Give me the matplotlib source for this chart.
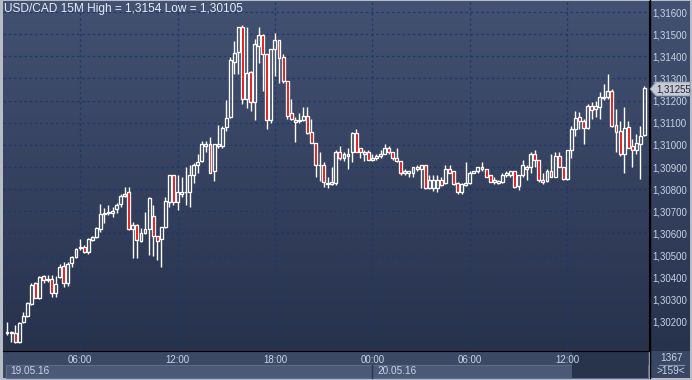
import numpy as np
import matplotlib.pyplot as plt
from matplotlib.patches import Rectangle, Polygon
from matplotlib.colors import LinearSegmentedColormap

W, H = 692, 380

# USD/CAD 15M candles, 19.05.16 01:30 -> 20.05.16 16:45
opens = [
    1.30150, 1.30155, 1.30150, 1.30109, 1.30200, 1.30227, 1.30282, 1.30377, 1.30309, 1.30409,
    1.30390, 1.30395, 1.30332, 1.30404, 1.30454, 1.30377, 1.30467, 1.30495, 1.30535, 1.30540,
    1.30517, 1.30572, 1.30585, 1.30621, 1.30689, 1.30694, 1.30694, 1.30712, 1.30735, 1.30771,
    1.30785, 1.30621, 1.30640, 1.30567, 1.30603, 1.30621, 1.30680, 1.30590, 1.30576, 1.30631,
    1.30744, 1.30862, 1.30744, 1.30780, 1.30785, 1.30789, 1.30866, 1.30907, 1.30925, 1.30997,
    1.31002, 1.30880, 1.30997, 1.30997, 1.31079, 1.31124, 1.31374, 1.31419, 1.31532, 1.31206,
    1.31328, 1.31192, 1.31446, 1.31496, 1.31410, 1.31111, 1.31432, 1.31473, 1.31396, 1.31287,
    1.31142, 1.31102, 1.31106, 1.31111, 1.31129, 1.31056, 1.31007, 1.30907, 1.30907, 1.30825,
    1.30825, 1.30830, 1.30970, 1.30943, 1.30952, 1.30966, 1.31052, 1.30984, 1.30957, 1.30970,
    1.30934, 1.30939, 1.30952, 1.30961, 1.30988, 1.30970, 1.30939, 1.30925, 1.30875, 1.30871,
    1.30875, 1.30902, 1.30889, 1.30907, 1.30807, 1.30807, 1.30807, 1.30843, 1.30830, 1.30893,
    1.30880, 1.30830, 1.30785, 1.30821, 1.30830, 1.30875, 1.30880, 1.30902, 1.30889, 1.30862,
    1.30843, 1.30839, 1.30834, 1.30866, 1.30866, 1.30880, 1.30816, 1.30862, 1.30902, 1.30902,
    1.30961, 1.30934, 1.30843, 1.30839, 1.30884, 1.30857, 1.30952, 1.30898, 1.30848, 1.30979,
    1.31070, 1.31124, 1.31106, 1.31075, 1.31174, 1.31161, 1.31170, 1.31210, 1.31215, 1.31242,
    1.31088, 1.31061, 1.30961, 1.31079, 1.30997, 1.30975, 1.31002, 1.31043,
]
highs = [
    1.30200, 1.30159, 1.30186, 1.30200, 1.30245, 1.30291, 1.30377, 1.30381, 1.30409, 1.30413,
    1.30413, 1.30413, 1.30409, 1.30463, 1.30472, 1.30472, 1.30499, 1.30535, 1.30576, 1.30549,
    1.30581, 1.30590, 1.30631, 1.30735, 1.30717, 1.30730, 1.30721, 1.30739, 1.30780, 1.30812,
    1.30812, 1.30653, 1.30644, 1.30626, 1.30698, 1.30766, 1.30730, 1.30590, 1.30631, 1.30766,
    1.30866, 1.30862, 1.30866, 1.30857, 1.30902, 1.30907, 1.30916, 1.30957, 1.31016, 1.31016,
    1.31034, 1.31002, 1.31088, 1.31084, 1.31201, 1.31396, 1.31469, 1.31532, 1.31540, 1.31532,
    1.31333, 1.31478, 1.31532, 1.31500, 1.31410, 1.31432, 1.31505, 1.31473, 1.31410, 1.31287,
    1.31206, 1.31124, 1.31142, 1.31170, 1.31170, 1.31115, 1.31007, 1.30966, 1.30921, 1.30857,
    1.30898, 1.30979, 1.30997, 1.30970, 1.30988, 1.31056, 1.31070, 1.30988, 1.30979, 1.30979,
    1.30957, 1.30961, 1.30979, 1.31002, 1.30993, 1.30970, 1.30984, 1.30925, 1.30893, 1.30884,
    1.30902, 1.30911, 1.30911, 1.30911, 1.30862, 1.30866, 1.30862, 1.30853, 1.30911, 1.30911,
    1.30880, 1.30834, 1.30830, 1.30921, 1.30884, 1.30884, 1.30902, 1.30921, 1.30889, 1.30866,
    1.30853, 1.30843, 1.30871, 1.30880, 1.30884, 1.30884, 1.30866, 1.30930, 1.30911, 1.30966,
    1.30979, 1.30934, 1.30875, 1.30889, 1.30957, 1.30970, 1.30970, 1.30898, 1.30979, 1.31084,
    1.31152, 1.31147, 1.31115, 1.31183, 1.31192, 1.31197, 1.31238, 1.31274, 1.31319, 1.31251,
    1.31161, 1.31106, 1.31170, 1.31106, 1.31025, 1.31047, 1.31084, 1.31265,
]
lows = [
    1.30141, 1.30109, 1.30105, 1.30105, 1.30196, 1.30223, 1.30277, 1.30309, 1.30304, 1.30377,
    1.30381, 1.30313, 1.30313, 1.30400, 1.30359, 1.30363, 1.30449, 1.30490, 1.30526, 1.30513,
    1.30508, 1.30567, 1.30581, 1.30608, 1.30649, 1.30685, 1.30676, 1.30694, 1.30721, 1.30766,
    1.30617, 1.30490, 1.30490, 1.30562, 1.30599, 1.30504, 1.30499, 1.30481, 1.30449, 1.30626,
    1.30721, 1.30730, 1.30708, 1.30766, 1.30730, 1.30721, 1.30830, 1.30871, 1.30921, 1.30966,
    1.30871, 1.30839, 1.30984, 1.30984, 1.31061, 1.31120, 1.31319, 1.31319, 1.31183, 1.31165,
    1.31152, 1.31111, 1.31369, 1.31242, 1.31070, 1.31097, 1.31310, 1.31278, 1.31278, 1.31115,
    1.31111, 1.31011, 1.31097, 1.31106, 1.31047, 1.31007, 1.30857, 1.30839, 1.30812, 1.30807,
    1.30821, 1.30821, 1.30934, 1.30925, 1.30893, 1.30921, 1.30966, 1.30943, 1.30925, 1.30930,
    1.30925, 1.30930, 1.30943, 1.30957, 1.30957, 1.30934, 1.30921, 1.30866, 1.30866, 1.30857,
    1.30857, 1.30884, 1.30807, 1.30803, 1.30803, 1.30794, 1.30789, 1.30816, 1.30825, 1.30871,
    1.30821, 1.30776, 1.30780, 1.30816, 1.30825, 1.30871, 1.30875, 1.30880, 1.30853, 1.30834,
    1.30825, 1.30825, 1.30830, 1.30853, 1.30857, 1.30807, 1.30798, 1.30853, 1.30843, 1.30875,
    1.30898, 1.30834, 1.30825, 1.30834, 1.30853, 1.30853, 1.30898, 1.30843, 1.30843, 1.30939,
    1.31038, 1.31070, 1.31002, 1.31070, 1.31115, 1.31124, 1.31115, 1.31201, 1.31206, 1.31079,
    1.30966, 1.30952, 1.30875, 1.30988, 1.30898, 1.30961, 1.30848, 1.31038,
]
closes = [
    1.30155, 1.30150, 1.30109, 1.30196, 1.30227, 1.30286, 1.30368, 1.30309, 1.30404, 1.30390,
    1.30395, 1.30332, 1.30372, 1.30449, 1.30377, 1.30463, 1.30495, 1.30531, 1.30540, 1.30517,
    1.30576, 1.30585, 1.30626, 1.30689, 1.30694, 1.30698, 1.30703, 1.30730, 1.30771, 1.30776,
    1.30621, 1.30640, 1.30572, 1.30603, 1.30621, 1.30762, 1.30590, 1.30567, 1.30631, 1.30748,
    1.30862, 1.30744, 1.30785, 1.30789, 1.30789, 1.30866, 1.30911, 1.30921, 1.31002, 1.31002,
    1.30875, 1.31002, 1.31002, 1.31075, 1.31120, 1.31383, 1.31414, 1.31532, 1.31206, 1.31324,
    1.31192, 1.31455, 1.31496, 1.31410, 1.31111, 1.31432, 1.31473, 1.31392, 1.31287, 1.31129,
    1.31115, 1.31111, 1.31111, 1.31129, 1.31052, 1.31007, 1.30907, 1.30911, 1.30834, 1.30830,
    1.30834, 1.30966, 1.30943, 1.30957, 1.30957, 1.31052, 1.30966, 1.30966, 1.30966, 1.30934,
    1.30943, 1.30952, 1.30961, 1.30984, 1.30970, 1.30939, 1.30925, 1.30875, 1.30880, 1.30880,
    1.30898, 1.30889, 1.30907, 1.30807, 1.30843, 1.30843, 1.30843, 1.30821, 1.30893, 1.30875,
    1.30825, 1.30785, 1.30825, 1.30830, 1.30875, 1.30880, 1.30902, 1.30889, 1.30857, 1.30834,
    1.30834, 1.30830, 1.30866, 1.30871, 1.30880, 1.30812, 1.30862, 1.30907, 1.30889, 1.30957,
    1.30934, 1.30843, 1.30834, 1.30884, 1.30853, 1.30952, 1.30898, 1.30848, 1.30975, 1.31070,
    1.31120, 1.31106, 1.31075, 1.31174, 1.31156, 1.31174, 1.31215, 1.31215, 1.31242, 1.31084,
    1.31056, 1.30957, 1.31075, 1.30988, 1.30975, 1.31007, 1.31038, 1.31255,
]

price_ticks = [1.302, 1.303, 1.304, 1.305, 1.306, 1.307, 1.308, 1.309,
               1.310, 1.311, 1.312, 1.313, 1.314, 1.315, 1.316]
time_bars = [18, 42, 66, 90, 114, 138]
time_labels = ['06:00', '12:00', '18:00', '00:00', '06:00', '12:00']
date_labels = ['19.05.16', '20.05.16']
title = 'USD/CAD 15M High = 1,3154 Low = 1,30105'
last_price = 1.31255

FONT = 'Liberation Sans'
TXT = '#c9d3e6'


def rect(x0, y0, x1, y1):
    # pixel box (from top-left) -> figure fraction rect
    return [x0 / W, 1 - y1 / H, (x1 - x0) / W, (y1 - y0) / H]


def fx(x):
    return x / W


def fy(y):
    return 1 - y / H


def add_rect(x0, y0, x1, y1, z, **kw):
    fig.patches.append(Rectangle((fx(x0), fy(y1)), (x1 - x0) / W, (y1 - y0) / H,
                                 transform=fig.transFigure, zorder=z, **kw))


def add_line(xs, ys, **kw):
    fig.lines.append(plt.Line2D([fx(v) for v in xs], [fy(v) for v in ys],
                                transform=fig.transFigure, **kw))


fig = plt.figure(figsize=(W / 100, H / 100), dpi=100)
fig.patch.set_facecolor('#b7bcc6')

# gradient background behind plot and price scale
bg = fig.add_axes(rect(3, 1, 690, 351))
bg.set_zorder(-1)
cmap = LinearSegmentedColormap.from_list('bg', ['#435172', '#27324c'])
bg.imshow(np.linspace(0, 1, 256).reshape(-1, 1), aspect='auto', cmap=cmap,
          extent=[0, 1, 0, 1])
bg.set_axis_off()

# bottom time strip, date bar and scroll area (under the main axes)
add_rect(3, 351, 649, 378, 0, facecolor='#3c4965', edgecolor='none')
add_rect(6, 365, 648, 377.5, 1, facecolor='#4b5877', edgecolor='#5f6b88',
         linewidth=0.8)
add_rect(572, 352, 648, 377.5, 2, facecolor='#28334c', edgecolor='none')
add_line([372, 372], [365, 377.5], color='#2a344e', linewidth=1.0, zorder=2)
add_line([572, 572], [352, 377.5], color='#6a7590', linewidth=0.8, zorder=2)
fig.text(fx(10), fy(371.5), date_labels[0], color=TXT, fontsize=7.2,
         family=FONT, va='center', ha='left', zorder=3)
fig.text(fx(377), fy(371.5), date_labels[1], color=TXT, fontsize=7.2,
         family=FONT, va='center', ha='left', zorder=3)

# bottom-right counter box
add_rect(650, 351, 690, 378, 0, facecolor='#3a4764', edgecolor='none')
fig.text(fx(671.5), fy(358), '1367', color=TXT, fontsize=7.3, family=FONT,
         va='center', ha='center', zorder=3)
add_line([659, 684], [364.5, 364.5], color='#8793ad', linewidth=0.8, zorder=3)
fig.text(fx(671), fy(371), '>159<', color=TXT, fontsize=7.3, family=FONT,
         va='center', ha='center', zorder=3)
add_line([649.5, 649.5], [0, 378], color='black', linewidth=1.0, zorder=4)

ax = fig.add_axes(rect(3, 1, 649, 351))
ax.set_zorder(4)
ax.patch.set_alpha(0)

x = np.arange(len(opens))
o = np.array(opens)
c = np.array(closes)
hi = np.array(highs)
lo = np.array(lows)
top = np.maximum(o, c)
bot = np.minimum(o, c)
down = c < o

ax.vlines(x, top, hi, color='white', linewidth=1.0, zorder=3)
ax.vlines(x, lo, bot, color='white', linewidth=1.0, zorder=3)
ax.bar(x, np.maximum(top - bot, 0.00001), bottom=bot, width=0.72,
       color=np.where(down, '#e00000', 'none'), edgecolor='white',
       linewidth=0.95, zorder=4)

ax.set_xlim(-0.985, 158.13)
ax.set_ylim(1.30069, 1.31650)

ax.set_yticks(price_ticks)
ax.set_xticks(time_bars)
ax.set_xticklabels(time_labels)
ax.yaxis.tick_right()
ax.yaxis.set_major_formatter(lambda v, p: f'{v:.5f}'.replace('.', ','))
ax.tick_params(axis='y', length=0, pad=2.5, colors=TXT, labelsize=6.9)
ax.tick_params(axis='x', length=0, pad=3, colors=TXT, labelsize=7.0)
for lab in ax.get_xticklabels() + ax.get_yticklabels():
    lab.set_fontfamily(FONT)
ax.grid(True, color='#1d386b', linestyle=(0, (2, 2.2)), linewidth=0.9)
ax.set_axisbelow(True)
for s in ['top', 'left']:
    ax.spines[s].set_visible(False)
ax.spines['right'].set_color('black')
ax.spines['bottom'].set_color('black')

# last price tag
tag = Polygon([(fx(650), fy(89)), (fx(656), fy(82)), (fx(690), fy(82)),
               (fx(690), fy(96)), (fx(656), fy(96))], closed=True,
              transform=fig.transFigure, facecolor='#c6cbd5',
              edgecolor='#8a92a4', linewidth=0.6, zorder=6)
fig.patches.append(tag)
fig.text(fx(656.5), fy(89.5), f'{last_price:.5f}'.replace('.', ','),
         color='#1f2636', fontsize=6.9, family=FONT, va='center', ha='left',
         zorder=7)

fig.text(fx(4), fy(9), title, color='#e6ebf3', fontsize=8.6, family=FONT,
         va='center', ha='left', zorder=7)

fig.savefig('out.png', dpi=100, facecolor=fig.get_facecolor())
